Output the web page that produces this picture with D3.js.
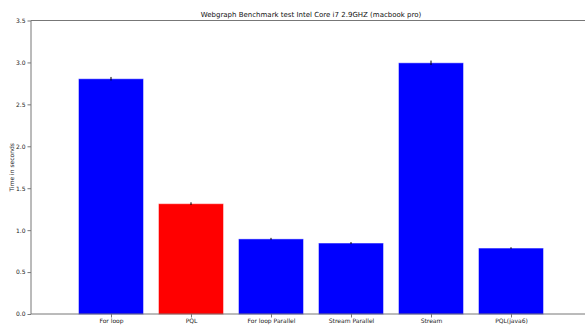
<!DOCTYPE html>
<html>
<head>
<meta charset="utf-8">
<script src="https://cdn.jsdelivr.net/npm/d3@7/dist/d3.min.js"></script>
<style>
  html, body { margin: 0; padding: 0; background: #fff; }
  svg { display: block; font-family: "DejaVu Sans", sans-serif; }
</style>
</head>
<body>
<svg id="chart" width="585" height="325"></svg>
<script>
// Benchmark timings (seconds) per implementation
const categories = ["For loop", "PQL", "For loop Parallel", "Stream Parallel", "Stream", "PQL(java6)"];
const times      = [2.80, 1.31, 0.89, 0.84, 2.99, 0.78];
const errors     = [0.015, 0.01, 0.006, 0.006, 0.02, 0.004];
const barColors  = ["#0000ff", "#ff0000", "#0000ff", "#0000ff", "#0000ff", "#0000ff"];
const yTicks     = [0.0, 0.5, 1.0, 1.5, 2.0, 2.5, 3.0, 3.5];

const title = "Webgraph Benchmark test Intel Core i7 2.9GHZ (macbook pro)";
const yLabel = "Time in seconds";

const svg = d3.select("#chart");
const margin = { left: 31, right: 0, top: 20.5, bottom: 11 };
const W = 585, H = 325;

// Bars sit at integer positions; the visible x range runs from -1 upward
const x = d3.scaleLinear().domain([-1, 5.925]).range([margin.left, W - margin.right]);
const y = d3.scaleLinear().domain([0, 3.5]).range([H - margin.bottom, margin.top]);
const barWidth = 0.8;

const g = svg.append("g");

// bars
g.selectAll("rect.bar")
  .data(times)
  .join("rect")
  .attr("class", "bar")
  .attr("x", (d, i) => x(i - barWidth / 2))
  .attr("width", x(barWidth) - x(0))
  .attr("y", d => y(d))
  .attr("height", d => y(0) - y(d))
  .attr("fill", (d, i) => barColors[i])
  .attr("stroke", (d, i) => barColors[i])
  .attr("stroke-opacity", 0.55)
  .attr("stroke-width", 1);

// error bars
g.selectAll("line.err")
  .data(times)
  .join("line")
  .attr("class", "err")
  .attr("x1", (d, i) => x(i))
  .attr("x2", (d, i) => x(i))
  .attr("y1", (d, i) => y(d - errors[i]))
  .attr("y2", (d, i) => y(d + errors[i]) - 1)
  .attr("stroke", "#000")
  .attr("stroke-width", 1);

// axes
const fontSize = "6px";
const yAxis = d3.axisLeft(y).tickValues(yTicks).tickFormat(d3.format(".1f")).tickSize(3.5).tickPadding(2);
const gy = svg.append("g").attr("transform", `translate(${margin.left},0)`).call(yAxis);

const xAxis = d3.axisBottom(x).tickValues(d3.range(categories.length))
  .tickFormat(i => categories[i]).tickSize(3.5).tickPadding(1.5);
const gx = svg.append("g").attr("transform", `translate(0,${H - margin.bottom})`).call(xAxis);

[gx, gy].forEach(a => {
  a.select(".domain").remove();
  a.selectAll(".tick line").attr("stroke", "#555").attr("stroke-width", 0.8);
  a.selectAll(".tick text").attr("fill", "#222").style("font-size", fontSize)
    .style("font-family", "DejaVu Sans, sans-serif");
});

// spines: left, top, bottom
const spine = "#777";
svg.append("line").attr("x1", margin.left).attr("x2", margin.left)
  .attr("y1", y(3.5)).attr("y2", y(0)).attr("stroke", spine).attr("stroke-width", 1);
svg.append("line").attr("x1", margin.left).attr("x2", W)
  .attr("y1", y(3.5)).attr("y2", y(3.5)).attr("stroke", spine).attr("stroke-width", 1);
svg.append("line").attr("x1", margin.left).attr("x2", W)
  .attr("y1", y(0)).attr("y2", y(0)).attr("stroke", spine).attr("stroke-width", 1);

// title
svg.append("text")
  .attr("x", (margin.left + W) / 2 + 3)
  .attr("y", 17)
  .attr("text-anchor", "middle")
  .attr("fill", "#111")
  .style("font-size", "7px")
  .text(title);

// y label
svg.append("text")
  .attr("transform", `translate(13.5,${(y(0) + y(3.5)) / 2}) rotate(-90)`)
  .attr("text-anchor", "middle")
  .attr("fill", "#222")
  .style("font-size", fontSize)
  .text(yLabel);
</script>
</body>
</html>
